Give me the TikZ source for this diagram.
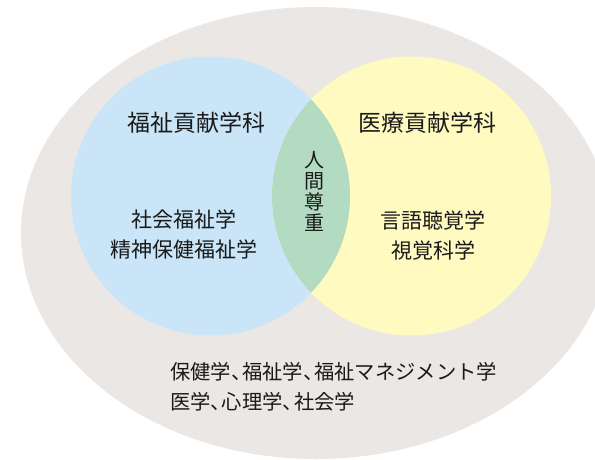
\documentclass[tikz,border=0pt]{standalone}
\usepackage{fontspec}
\setmainfont{Noto Sans CJK JP}
\definecolor{outerc}{HTML}{EBE7E4}
\definecolor{bluec}{HTML}{C9E5F7}
\definecolor{yellowc}{HTML}{FFFAC0}
\definecolor{greenc}{HTML}{B3DBC1}
\definecolor{txtc}{HTML}{1A1A1A}
\begin{document}
\begin{tikzpicture}[x=1pt,y=-1pt,
  heading/.style={inner sep=0pt,text=txtc,font=\fontsize{23}{23}\selectfont},
  bodytext/.style={inner sep=0pt,text=txtc,align=center,font=\fontsize{21}{30}\selectfont},
  vertext/.style={inner sep=0pt,text=txtc,align=center,font=\fontsize{20}{21}\selectfont},
  outertext/.style={inner sep=0pt,text=txtc,align=left,anchor=west,font=\fontsize{20.3}{30}\selectfont}]
\useasboundingbox (0,0) rectangle (595,459);
\clip (0,0) rectangle (595,459);
\fill[outerc] (316,233) ellipse [x radius=295, y radius=226];
\fill[bluec] (210.5,196) circle [radius=139.5];
\fill[yellowc] (411.5,196) circle [radius=139.5];
\begin{scope}
  \clip (210.5,196) circle [radius=139.5];
  \fill[greenc] (411.5,196) circle [radius=139.5];
\end{scope}
\node[heading] (h1) at (196,123) {福祉貢献学科};
\node[heading] (h2) at (427,123) {医療貢献学科};
\node[bodytext] (b1) at (184,234) {社会福祉学\\精神保健福祉学};
\node[bodytext] (b2) at (433,235) {言語聴覚学\\視覚科学};
\node[vertext] (c) at (314,191) {人\\間\\尊\\重};
\node[outertext] (o) at (170,387) {保健学、\kern-0.45em 福祉学、\kern-0.45em 福祉マネジメント学\\医学、\kern-0.45em 心理学、\kern-0.45em 社会学};
\end{tikzpicture}
\end{document}
